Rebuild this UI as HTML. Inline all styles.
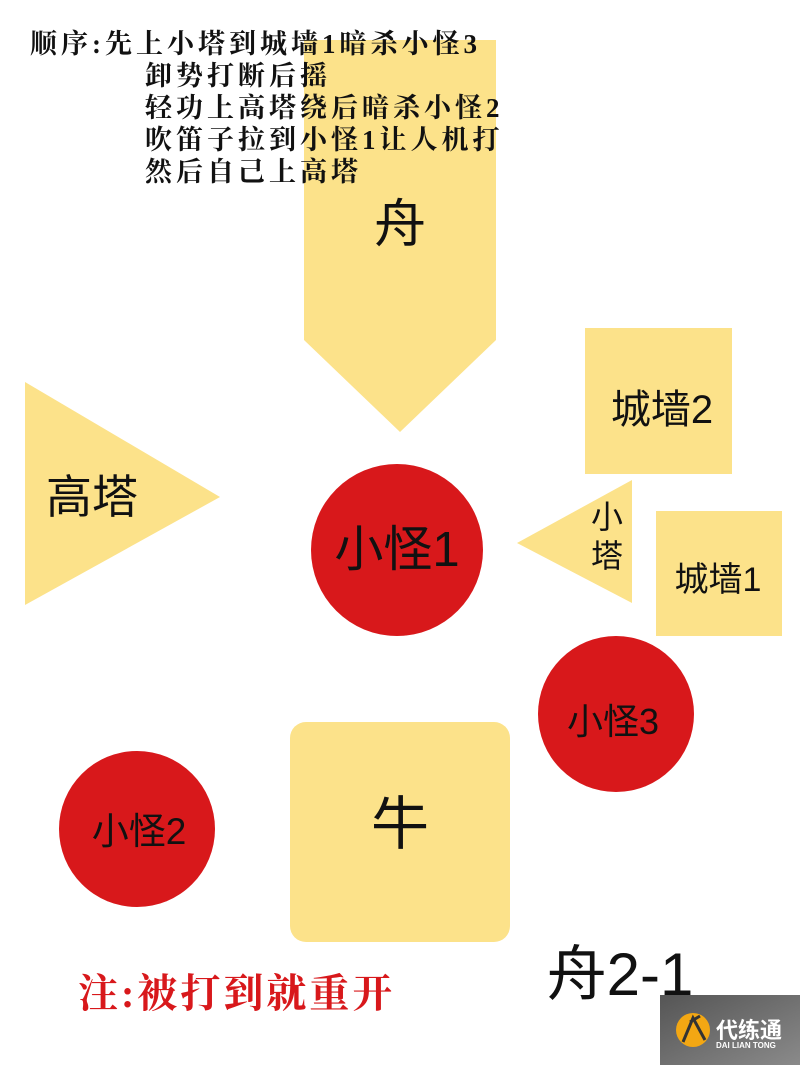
<!DOCTYPE html>
<html><head><meta charset="utf-8"><style>
body{margin:0;width:800px;height:1065px;background:#fff;position:relative;overflow:hidden;font-family:"Liberation Sans","Noto Sans CJK SC",sans-serif}
.t{position:absolute;white-space:nowrap}
.c{position:absolute;display:flex;align-items:center;justify-content:center;white-space:nowrap;color:#111;width:300px;height:100px;line-height:1}
.s{font-family:"Liberation Serif","Noto Serif CJK SC",serif;font-weight:bold;font-size:27px;color:#111;line-height:32px;letter-spacing:4px}
</style></head><body>
<svg width="800" height="1065" style="position:absolute;left:0;top:0">
<polygon points="304,40 496,40 496,340 400,432 304,340" fill="#fce28a"/>
<polygon points="25,382 220,497 25,605" fill="#fce28a"/>
<circle cx="397" cy="550" r="86" fill="#d8181b"/>
<rect x="585" y="328" width="147" height="146" fill="#fce28a"/>
<polygon points="517,543 632,480 632,603" fill="#fce28a"/>
<rect x="656" y="511" width="126" height="125" fill="#fce28a"/>
<circle cx="616" cy="714" r="78" fill="#d8181b"/>
<rect x="290" y="722" width="220" height="220" rx="16" fill="#fce28a"/>
<circle cx="137" cy="829" r="78" fill="#d8181b"/>
<defs><linearGradient id="g" x1="0" y1="0" x2="1" y2="1"><stop offset="0" stop-color="#555"/><stop offset="1" stop-color="#8a8a8a"/></linearGradient></defs>
<rect x="660" y="995" width="140" height="70" fill="url(#g)"/>
<circle cx="693" cy="1030" r="17" fill="#f3a713"/>
<path d="M683,1042 L693,1018 L705,1040 M690,1022 L700,1016" stroke="#333" stroke-width="3" fill="none"/>
</svg>
<div class="t s" style="left:30px;top:28px">顺序:先上小塔到城墙1暗杀小怪3</div>
<div class="t s" style="left:145px;top:60px">卸势打断后摇<br>轻功上高塔绕后暗杀小怪2<br>吹笛子拉到小怪1让人机打<br>然后自己上高塔</div>
<div class="c" style="left:250px;top:175px;font-size:52px">舟</div>
<div class="c" style="left:-58px;top:447px;font-size:46px">高塔</div>
<div class="c" style="left:247px;top:500px;font-size:49px">小怪1</div>
<div class="c" style="left:512px;top:360px;font-size:40px">城墙2</div>
<div class="c" style="left:457px;top:497px;width:300px;height:40px;font-size:32px">小</div>
<div class="c" style="left:457px;top:536px;width:300px;height:40px;font-size:32px">塔</div>
<div class="c" style="left:568px;top:530px;font-size:34px">城墙1</div>
<div class="c" style="left:463px;top:672px;font-size:36px">小怪3</div>
<div class="c" style="left:-11px;top:781px;font-size:37px">小怪2</div>
<div class="c" style="left:250px;top:775px;font-size:58px">牛</div>
<div class="t" style="left:78px;top:962px;font-family:'Liberation Serif','Noto Serif CJK SC',serif;font-weight:bold;font-size:40px;letter-spacing:3px;color:#d8181b">注:被打到就重开</div>
<div class="c" style="left:470px;top:925px;font-size:60px">舟2-1</div>
<div class="t" style="left:716px;top:1013px;font-size:22px;font-weight:bold;color:#fff">代练通</div>
<div class="t" style="left:716px;top:1041px;font-size:8px;font-weight:bold;color:#fff">DAI LIAN TONG</div>
</body></html>
